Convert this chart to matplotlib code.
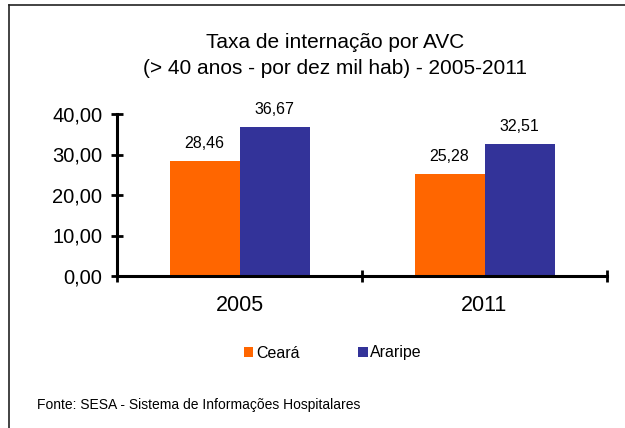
import matplotlib
matplotlib.use("Agg")
import matplotlib.pyplot as plt
import numpy as np
from matplotlib.lines import Line2D
from matplotlib.patches import Patch

plt.rcParams['font.family'] = ['Liberation Sans', 'DejaVu Sans']

# data
anos = ['2005', '2011']
ceara = [28.46, 25.28]
araripe = [36.67, 32.51]
series = ['Ceará', 'Araripe']
cores = ['#FF6600', '#333399']
yticks = [0, 10, 20, 30, 40]

fig = plt.figure(figsize=(6.25, 4.28), dpi=100)
ax = fig.add_axes([117/625, 1 - 276/428, 490/625, 162/428])

x = np.arange(len(anos))
w = 70/245
ax.bar(x - w/2, ceara, w, color=cores[0], linewidth=0)
ax.bar(x + w/2, araripe, w, color=cores[1], linewidth=0)

for xi, v in zip(x - w/2, ceara):
    ax.text(xi, v + 4.2, f'{v:.2f}'.replace('.', ','), ha='center', va='center', fontsize=11.5)
for xi, v in zip(x + w/2, araripe):
    ax.text(xi, v + 4.5, f'{v:.2f}'.replace('.', ','), ha='center', va='center', fontsize=11.5)

ax.set_xlim(-0.5, 1.5)
ax.set_ylim(0, 40)
ax.set_yticks(yticks)
ax.set_yticklabels([f'{t:.2f}'.replace('.', ',') for t in yticks], fontsize=14.5)
ax.set_xticks([-0.5, 0.5, 1.5])
ax.set_xticklabels([])
ax.set_xticks(x, minor=True)
ax.set_xticklabels(anos, minor=True, fontsize=15.5)
ax.tick_params(axis='x', which='minor', length=0, pad=14)
ax.tick_params(axis='both', which='major', direction='inout', length=9, width=2)
ax.tick_params(axis='y', pad=6)
for s in ['top', 'right']:
    ax.spines[s].set_visible(False)
for s in ['left', 'bottom']:
    ax.spines[s].set_linewidth(2.2)
    ax.spines[s].set_color('black')

fig.text(335/625, 1 - 43/428, 'Taxa de internação por AVC', ha='center', va='center', fontsize=15)
fig.text(335/625, 1 - 68/428, '(> 40 anos - por dez mil hab) - 2005-2011', ha='center', va='center', fontsize=15)

handles = [Patch(facecolor=c, edgecolor='none') for c in cores]
fig.legend(handles, series, loc='center', bbox_to_anchor=(333/625, 1 - 353/428),
           ncol=2, frameon=False, fontsize=11.5, handlelength=0.6, handleheight=0.6,
           handletextpad=0.15, columnspacing=3.7)

fig.text(37/625, 1 - 405/428, 'Fonte: SESA - Sistema de Informações Hospitalares', ha='left', va='center', fontsize=10)

# outer chart frame (cut off at right and bottom)
fig.add_artist(Line2D([9/625, 1], [1 - 5/428, 1 - 5/428], color='#222222', lw=1.2))
fig.add_artist(Line2D([9/625, 9/625], [0, 1 - 5/428], color='#222222', lw=1.2))

fig.savefig('out.png', dpi=100)
